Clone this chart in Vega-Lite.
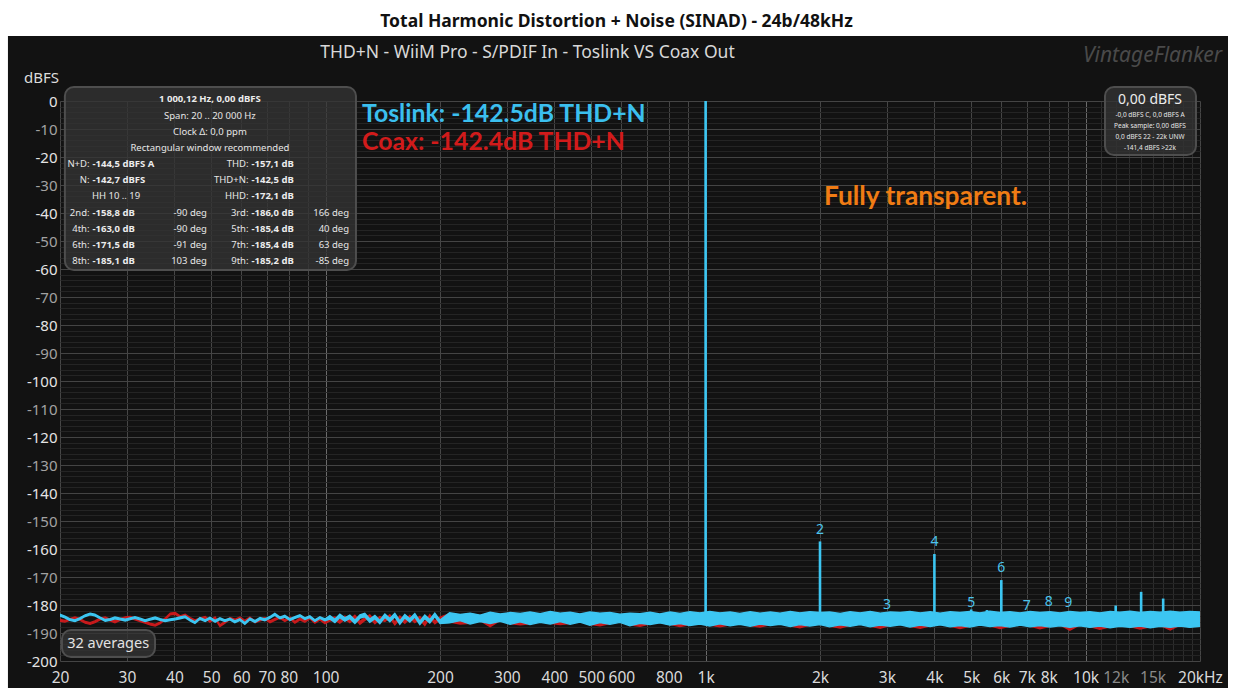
{
"$schema": "https://vega.github.io/schema/vega-lite/v6.json",
"width": 1140, "height": 560,
"autosize": {"type": "none"},
"padding": {"left": 60, "top": 101, "right": 33, "bottom": 32},
"background": "#121212",
"config": {"view": {"stroke": null}, "axis": {"title": null, "domain": false, "ticks": false}},
"datasets": {
"tos": [
{"f":20.0,"lo":-183.9,"hi":-183.3},{"f":20.6,"lo":-184.6,"hi":-184.0},{"f":21.2,"lo":-185.5,"hi":-184.9},{"f":21.9,"lo":-185.9,"hi":-185.3},{"f":22.6,"lo":-185.1,"hi":-184.5},{"f":23.3,"lo":-184.1,"hi":-183.5},{"f":24.0,"lo":-183.5,"hi":-182.9},{"f":24.7,"lo":-183.9,"hi":-183.3},{"f":25.5,"lo":-184.9,"hi":-184.3},{"f":26.3,"lo":-185.8,"hi":-185.2},{"f":27.1,"lo":-185.5,"hi":-184.9},{"f":27.9,"lo":-184.9,"hi":-184.3},{"f":28.8,"lo":-185.3,"hi":-184.7},{"f":29.7,"lo":-185.7,"hi":-185.1},{"f":30.6,"lo":-185.2,"hi":-184.6},{"f":31.5,"lo":-184.8,"hi":-184.2},{"f":32.5,"lo":-185.3,"hi":-184.7},{"f":33.5,"lo":-185.9,"hi":-185.3},{"f":34.5,"lo":-185.4,"hi":-184.8},{"f":35.6,"lo":-184.9,"hi":-184.3},{"f":36.7,"lo":-185.5,"hi":-184.9},{"f":37.8,"lo":-185.9,"hi":-185.3},{"f":39.0,"lo":-185.6,"hi":-185.0},{"f":40.2,"lo":-185.3,"hi":-184.7},{"f":41.4,"lo":-184.9,"hi":-184.3},{"f":42.7,"lo":-184.5,"hi":-183.9},{"f":44.0,"lo":-185.7,"hi":-185.1},{"f":45.3,"lo":-186.6,"hi":-186.0},{"f":46.7,"lo":-185.1,"hi":-184.5},{"f":48.2,"lo":-185.9,"hi":-185.3},{"f":49.6,"lo":-185.0,"hi":-184.4},{"f":51.2,"lo":-186.1,"hi":-185.5},{"f":52.7,"lo":-185.2,"hi":-184.6},{"f":54.3,"lo":-185.9,"hi":-185.3},{"f":56.0,"lo":-185.3,"hi":-184.7},{"f":57.7,"lo":-186.3,"hi":-185.7},{"f":59.5,"lo":-185.5,"hi":-184.9},{"f":61.3,"lo":-186.9,"hi":-186.3},{"f":63.2,"lo":-185.3,"hi":-184.7},{"f":65.2,"lo":-186.2,"hi":-185.6},{"f":67.2,"lo":-185.1,"hi":-184.5},{"f":69.2,"lo":-185.6,"hi":-185.0},{"f":71.4,"lo":-184.7,"hi":-184.1},{"f":73.5,"lo":-183.6,"hi":-183.0},{"f":75.8,"lo":-184.9,"hi":-184.3},{"f":78.1,"lo":-184.3,"hi":-183.7},{"f":80.6,"lo":-185.5,"hi":-184.9},{"f":83.0,"lo":-184.8,"hi":-184.2},{"f":85.6,"lo":-184.1,"hi":-183.5},{"f":88.2,"lo":-185.2,"hi":-184.6},{"f":90.9,"lo":-184.5,"hi":-183.9},{"f":93.7,"lo":-185.9,"hi":-185.3},{"f":96.6,"lo":-184.8,"hi":-184.2},{"f":99.6,"lo":-185.6,"hi":-185.0},
{"f":102.6,"lo":-185.0,"hi":-183.8},{"f":105.8,"lo":-186.3,"hi":-185.1},{"f":109.0,"lo":-184.5,"hi":-183.3},{"f":112.4,"lo":-185.8,"hi":-184.6},{"f":115.8,"lo":-184.8,"hi":-183.6},{"f":119.4,"lo":-186.6,"hi":-185.4},{"f":123.1,"lo":-184.7,"hi":-183.5},{"f":126.8,"lo":-184.2,"hi":-183.0},{"f":130.7,"lo":-186.2,"hi":-185.0},{"f":134.8,"lo":-184.9,"hi":-183.7},{"f":138.9,"lo":-186.7,"hi":-185.5},{"f":143.2,"lo":-184.4,"hi":-183.2},{"f":147.6,"lo":-186.0,"hi":-184.8},{"f":152.1,"lo":-184.2,"hi":-183.0},{"f":156.8,"lo":-186.9,"hi":-185.7},{"f":161.6,"lo":-184.6,"hi":-183.4},{"f":166.6,"lo":-186.1,"hi":-184.9},{"f":171.7,"lo":-184.3,"hi":-183.1},{"f":177.0,"lo":-187.0,"hi":-185.8},{"f":182.4,"lo":-184.8,"hi":-183.6},{"f":188.0,"lo":-186.4,"hi":-185.2},{"f":193.8,"lo":-184.1,"hi":-182.9},{"f":200,"lo":-186.6,"hi":-185.4},
{"f":212,"lo":-186.4,"hi":-182.8},{"f":226,"lo":-185.6,"hi":-183.4},{"f":240,"lo":-186.8,"hi":-182.9},{"f":255,"lo":-185.9,"hi":-183.6},{"f":271,"lo":-186.6,"hi":-182.6},{"f":288,"lo":-185.8,"hi":-183.2},{"f":306,"lo":-186.9,"hi":-182.7},{"f":325,"lo":-186.0,"hi":-183.0},{"f":345,"lo":-187.0,"hi":-182.5},{"f":367,"lo":-186.2,"hi":-183.1},{"f":390,"lo":-186.8,"hi":-182.3},{"f":414,"lo":-185.9,"hi":-182.9},{"f":440,"lo":-186.9,"hi":-182.6},{"f":467,"lo":-186.1,"hi":-183.2},{"f":496,"lo":-187.2,"hi":-182.5},{"f":527,"lo":-186.3,"hi":-182.9},{"f":560,"lo":-186.9,"hi":-182.7},{"f":595,"lo":-186.2,"hi":-183.3},{"f":632,"lo":-187.4,"hi":-182.9},{"f":672,"lo":-186.5,"hi":-183.1},{"f":714,"lo":-187.0,"hi":-182.6},{"f":758,"lo":-186.4,"hi":-183.2},{"f":806,"lo":-187.2,"hi":-182.5},{"f":856,"lo":-186.6,"hi":-183.0},{"f":909,"lo":-187.3,"hi":-182.4},{"f":966,"lo":-186.8,"hi":-182.8},{"f":1026,"lo":-187.5,"hi":-182.3},{"f":1090,"lo":-186.7,"hi":-182.8},{"f":1160,"lo":-187.4,"hi":-182.5},{"f":1230,"lo":-186.9,"hi":-183.0},{"f":1310,"lo":-187.6,"hi":-182.4},{"f":1390,"lo":-186.8,"hi":-182.9},{"f":1480,"lo":-187.3,"hi":-182.5},{"f":1570,"lo":-186.9,"hi":-182.9},{"f":1670,"lo":-187.7,"hi":-182.3},{"f":1770,"lo":-187.0,"hi":-182.8},{"f":1880,"lo":-187.5,"hi":-182.4},{"f":2000,"lo":-187.0,"hi":-182.7},{"f":2120,"lo":-187.8,"hi":-182.5},{"f":2260,"lo":-187.1,"hi":-183.0},{"f":2400,"lo":-187.6,"hi":-182.4},{"f":2550,"lo":-187.0,"hi":-182.8},{"f":2710,"lo":-187.8,"hi":-182.3},{"f":2880,"lo":-187.2,"hi":-182.9},{"f":3060,"lo":-187.6,"hi":-182.5},{"f":3250,"lo":-187.1,"hi":-182.7},{"f":3450,"lo":-187.9,"hi":-182.3},{"f":3670,"lo":-187.2,"hi":-182.8},{"f":3900,"lo":-187.7,"hi":-182.4},{"f":4140,"lo":-187.1,"hi":-182.9},{"f":4400,"lo":-187.8,"hi":-182.4},{"f":4670,"lo":-187.3,"hi":-182.7},{"f":4960,"lo":-187.9,"hi":-182.3},{"f":5270,"lo":-187.2,"hi":-182.8},{"f":5600,"lo":-187.7,"hi":-182.2},{"f":5950,"lo":-187.3,"hi":-182.7},{"f":6320,"lo":-187.9,"hi":-182.4},{"f":6720,"lo":-187.2,"hi":-182.8},{"f":7140,"lo":-187.8,"hi":-182.3},{"f":7580,"lo":-187.3,"hi":-182.7},{"f":8060,"lo":-187.9,"hi":-182.4},{"f":8560,"lo":-187.4,"hi":-182.8},{"f":9090,"lo":-188.0,"hi":-182.3},{"f":9660,"lo":-187.4,"hi":-182.7},{"f":10260,"lo":-188.0,"hi":-182.4},{"f":10900,"lo":-187.5,"hi":-182.8},{"f":11600,"lo":-188.1,"hi":-182.3},{"f":12300,"lo":-187.6,"hi":-182.6},{"f":13100,"lo":-188.0,"hi":-182.2},{"f":13900,"lo":-187.5,"hi":-182.7},{"f":14800,"lo":-188.1,"hi":-182.3},{"f":15700,"lo":-187.6,"hi":-182.6},{"f":16700,"lo":-188.0,"hi":-182.2},{"f":17700,"lo":-187.5,"hi":-182.6},{"f":18800,"lo":-188.0,"hi":-182.3},{"f":20000,"lo":-187.6,"hi":-182.5}
],
"coax": [
{"f":20.0,"lo":-185.8,"hi":-185.2},{"f":20.6,"lo":-186.1,"hi":-185.5},{"f":21.2,"lo":-185.5,"hi":-184.9},{"f":21.9,"lo":-184.9,"hi":-184.3},{"f":22.6,"lo":-185.5,"hi":-184.9},{"f":23.3,"lo":-186.5,"hi":-185.9},{"f":24.0,"lo":-186.9,"hi":-186.3},{"f":24.7,"lo":-186.3,"hi":-185.7},{"f":25.5,"lo":-185.3,"hi":-184.7},{"f":26.3,"lo":-184.9,"hi":-184.3},{"f":27.1,"lo":-185.7,"hi":-185.1},{"f":27.9,"lo":-186.3,"hi":-185.7},{"f":28.8,"lo":-185.5,"hi":-184.9},{"f":29.7,"lo":-184.9,"hi":-184.3},{"f":30.6,"lo":-184.7,"hi":-184.1},{"f":31.5,"lo":-185.3,"hi":-184.7},{"f":32.5,"lo":-185.9,"hi":-185.3},{"f":33.5,"lo":-186.5,"hi":-185.9},{"f":34.5,"lo":-187.1,"hi":-186.5},{"f":35.6,"lo":-187.5,"hi":-186.9},{"f":36.7,"lo":-186.7,"hi":-186.1},{"f":37.8,"lo":-185.3,"hi":-184.7},{"f":39.0,"lo":-183.5,"hi":-182.9},{"f":40.2,"lo":-183.3,"hi":-182.7},{"f":41.4,"lo":-184.5,"hi":-183.9},{"f":42.7,"lo":-183.9,"hi":-183.3},{"f":44.0,"lo":-185.1,"hi":-184.5},{"f":45.3,"lo":-185.9,"hi":-185.3},{"f":46.7,"lo":-185.3,"hi":-184.7},{"f":48.2,"lo":-184.7,"hi":-184.1},{"f":49.6,"lo":-186.1,"hi":-185.5},{"f":51.2,"lo":-184.9,"hi":-184.3},{"f":52.7,"lo":-187.7,"hi":-187.1},{"f":54.3,"lo":-186.5,"hi":-185.9},{"f":56.0,"lo":-185.1,"hi":-184.5},{"f":57.7,"lo":-185.7,"hi":-185.1},{"f":59.5,"lo":-184.9,"hi":-184.3},{"f":61.3,"lo":-186.1,"hi":-185.5},{"f":63.2,"lo":-184.9,"hi":-184.3},{"f":65.2,"lo":-186.3,"hi":-185.7},{"f":67.2,"lo":-185.7,"hi":-185.1},{"f":69.2,"lo":-185.1,"hi":-184.5},{"f":71.4,"lo":-186.3,"hi":-185.7},{"f":73.5,"lo":-185.5,"hi":-184.9},{"f":75.8,"lo":-184.7,"hi":-184.1},{"f":78.1,"lo":-185.9,"hi":-185.3},{"f":80.6,"lo":-184.9,"hi":-184.3},{"f":83.0,"lo":-186.5,"hi":-185.9},{"f":85.6,"lo":-185.3,"hi":-184.7},{"f":88.2,"lo":-186.1,"hi":-185.5},{"f":90.9,"lo":-184.9,"hi":-184.3},{"f":93.7,"lo":-186.5,"hi":-185.9},{"f":96.6,"lo":-185.3,"hi":-184.7},{"f":99.6,"lo":-186.7,"hi":-186.1},
{"f":102.6,"lo":-185.7,"hi":-184.7},{"f":105.8,"lo":-185.3,"hi":-184.3},{"f":109.0,"lo":-186.5,"hi":-185.5},{"f":112.4,"lo":-185.0,"hi":-184.0},{"f":115.8,"lo":-186.3,"hi":-185.3},{"f":119.4,"lo":-184.7,"hi":-183.7},{"f":123.1,"lo":-186.9,"hi":-185.9},{"f":126.8,"lo":-185.5,"hi":-184.5},{"f":130.7,"lo":-184.5,"hi":-183.5},{"f":134.8,"lo":-186.7,"hi":-185.7},{"f":138.9,"lo":-185.1,"hi":-184.1},{"f":143.2,"lo":-185.9,"hi":-184.9},{"f":147.6,"lo":-184.5,"hi":-183.5},{"f":152.1,"lo":-187.1,"hi":-186.1},{"f":156.8,"lo":-184.9,"hi":-183.9},{"f":161.6,"lo":-186.5,"hi":-185.5},{"f":166.6,"lo":-184.7,"hi":-183.7},{"f":171.7,"lo":-186.3,"hi":-185.3},{"f":177.0,"lo":-185.1,"hi":-184.1},{"f":182.4,"lo":-187.3,"hi":-186.3},{"f":188.0,"lo":-184.5,"hi":-183.5},{"f":193.8,"lo":-186.7,"hi":-185.7},{"f":200,"lo":-185.3,"hi":-184.3},
{"f":212,"lo":-186.1,"hi":-183.1},{"f":226,"lo":-186.8,"hi":-183.6},{"f":240,"lo":-186.5,"hi":-183.2},{"f":255,"lo":-185.6,"hi":-183.8},{"f":271,"lo":-187.7,"hi":-182.9},{"f":288,"lo":-185.5,"hi":-183.5},{"f":306,"lo":-186.6,"hi":-183.0},{"f":325,"lo":-187.1,"hi":-183.3},{"f":345,"lo":-186.7,"hi":-182.8},{"f":367,"lo":-185.9,"hi":-183.4},{"f":390,"lo":-186.5,"hi":-182.6},{"f":414,"lo":-187.0,"hi":-183.2},{"f":440,"lo":-186.6,"hi":-182.9},{"f":467,"lo":-185.8,"hi":-183.5},{"f":496,"lo":-186.9,"hi":-182.8},{"f":527,"lo":-187.4,"hi":-183.2},{"f":560,"lo":-186.6,"hi":-183.0},{"f":595,"lo":-185.9,"hi":-183.6},{"f":632,"lo":-187.1,"hi":-183.2},{"f":672,"lo":-187.6,"hi":-183.4},{"f":714,"lo":-186.7,"hi":-182.9},{"f":758,"lo":-186.1,"hi":-183.5},{"f":806,"lo":-186.9,"hi":-182.8},{"f":856,"lo":-187.7,"hi":-183.3},{"f":909,"lo":-187.0,"hi":-182.7},{"f":966,"lo":-186.5,"hi":-183.1},{"f":1026,"lo":-187.2,"hi":-182.6},{"f":1090,"lo":-187.8,"hi":-183.1},{"f":1160,"lo":-187.1,"hi":-182.8},{"f":1230,"lo":-186.6,"hi":-183.3},{"f":1310,"lo":-187.3,"hi":-182.7},{"f":1390,"lo":-187.9,"hi":-183.2},{"f":1480,"lo":-187.0,"hi":-182.8},{"f":1570,"lo":-186.6,"hi":-183.2},{"f":1670,"lo":-187.4,"hi":-182.6},{"f":1770,"lo":-188.1,"hi":-183.1},{"f":1880,"lo":-187.2,"hi":-182.7},{"f":2000,"lo":-186.7,"hi":-183.0},{"f":2120,"lo":-187.5,"hi":-182.8},{"f":2260,"lo":-188.2,"hi":-183.3},{"f":2400,"lo":-187.3,"hi":-182.7},{"f":2550,"lo":-186.7,"hi":-183.1},{"f":2710,"lo":-187.5,"hi":-182.6},{"f":2880,"lo":-188.3,"hi":-183.2},{"f":3060,"lo":-187.3,"hi":-182.8},{"f":3250,"lo":-186.8,"hi":-183.0},{"f":3450,"lo":-187.6,"hi":-182.6},{"f":3670,"lo":-188.3,"hi":-183.1},{"f":3900,"lo":-187.4,"hi":-182.7},{"f":4140,"lo":-186.8,"hi":-183.2},{"f":4400,"lo":-187.5,"hi":-182.7},{"f":4670,"lo":-188.4,"hi":-183.0},{"f":4960,"lo":-187.6,"hi":-182.6},{"f":5270,"lo":-186.9,"hi":-183.1},{"f":5600,"lo":-187.4,"hi":-182.5},{"f":5950,"lo":-188.4,"hi":-183.0},{"f":6320,"lo":-187.6,"hi":-182.7},{"f":6720,"lo":-186.9,"hi":-183.1},{"f":7140,"lo":-187.5,"hi":-182.6},{"f":7580,"lo":-188.5,"hi":-183.0},{"f":8060,"lo":-187.6,"hi":-182.7},{"f":8560,"lo":-187.1,"hi":-183.1},{"f":9090,"lo":-189.0,"hi":-182.6},{"f":9660,"lo":-187.1,"hi":-183.0},{"f":10260,"lo":-187.7,"hi":-182.7},{"f":10900,"lo":-188.7,"hi":-183.1},{"f":11600,"lo":-187.8,"hi":-182.6},{"f":12300,"lo":-187.3,"hi":-182.9},{"f":13100,"lo":-187.7,"hi":-182.5},{"f":13900,"lo":-188.6,"hi":-183.0},{"f":14800,"lo":-187.8,"hi":-182.6},{"f":15700,"lo":-187.3,"hi":-182.9},{"f":16700,"lo":-188.9,"hi":-182.5},{"f":17700,"lo":-187.2,"hi":-182.9},{"f":18800,"lo":-187.7,"hi":-182.6},{"f":20000,"lo":-187.3,"hi":-182.8}
],
"harm": [
{"f":1000,"db":0},{"f":2000,"db":-157.3},{"f":4000,"db":-161.8},{"f":6000,"db":-171.1},{"f":5000,"db":-181.6},{"f":5500,"db":-181.8},{"f":12000,"db":-180.2},{"f":14000,"db":-175.3},{"f":16000,"db":-177.7}
],
"hlab": [
{"n":"2","f":2000,"db":-153.2},{"n":"4","f":4000,"db":-157.5},{"n":"6","f":6000,"db":-166.8},{"n":"3","f":3000,"db":-180.0},{"n":"5","f":5000,"db":-179.3},{"n":"7","f":7000,"db":-180.4},{"n":"8","f":8000,"db":-179.0},{"n":"9","f":9000,"db":-179.3}
]
},
"layer": [
{"data": {"name": "coax"},
 "mark": {"type": "area", "fill": "#c81a1c", "stroke": "#c81a1c", "strokeWidth": 1.4, "clip": true},
 "encoding": {
  "x": {"field": "f", "type": "quantitative",
   "scale": {"type": "log", "domain": [20, 20000], "nice": false},
   "axis": {
    "title": null,
    "values": [20,30,40,50,60,70,80,90,100,200,300,400,500,600,700,800,900,1000,2000,3000,4000,5000,6000,7000,8000,9000,10000,11000,12000,13000,14000,15000,16000,17000,18000,19000,20000],
    "tickCount": 200,
    "labelExpr": "datum.value == 20000 ? '20kHz' : (indexof([90,700,900,9000,11000,13000,14000,16000,17000,18000,19000], datum.value) >= 0 ? '' : (datum.value >= 1000 ? (datum.value / 1000) + 'k' : '' + datum.value))",
    "grid": true,
    "gridColor": {"condition": [{"test": "datum.value == 100 || datum.value == 1000 || datum.value == 10000", "value": "#6a6a6a"}, {"test": "datum.value > 10000 && datum.value < 20000", "value": "#2c2c2c"}], "value": "#464646"},
    "labelColor": {"condition": {"test": "datum.value == 12000 || datum.value == 15000", "value": "#8a8a8a"}, "value": "#dadada"},
    "labelFont": "Noto Sans", "labelFontSize": 15.5, "labelPadding": 9.5,
    "labelFlush": false, "labelOverlap": false, "labelBound": false}},
  "y": {"field": "lo", "type": "quantitative",
   "scale": {"domain": [-200, 0], "nice": false, "zero": false},
   "axis": {
    "title": null,
    "values": [-200,-198,-196,-194,-192,-190,-188,-186,-184,-182,-180,-178,-176,-174,-172,-170,-168,-166,-164,-162,-160,-158,-156,-154,-152,-150,-148,-146,-144,-142,-140,-138,-136,-134,-132,-130,-128,-126,-124,-122,-120,-118,-116,-114,-112,-110,-108,-106,-104,-102,-100,-98,-96,-94,-92,-90,-88,-86,-84,-82,-80,-78,-76,-74,-72,-70,-68,-66,-64,-62,-60,-58,-56,-54,-52,-50,-48,-46,-44,-42,-40,-38,-36,-34,-32,-30,-28,-26,-24,-22,-20,-18,-16,-14,-12,-10,-8,-6,-4,-2,0],
    "tickCount": 200,
    "labelExpr": "datum.value % 10 == 0 ? '' + datum.value : ''",
    "grid": true,
    "gridColor": {"condition": {"test": "datum.value % 10 == 0", "value": "#444444"}, "value": "#242424"},
    "labelColor": {"condition": {"test": "datum.value % 20 == 0", "value": "#e4e4e4"}, "value": "#a2a2a2"},
    "labelFont": "Noto Sans", "labelFontSize": 15, "labelPadding": 3,
    "labelOverlap": false, "labelBound": false}},
  "y2": {"field": "hi"}}},
{"data": {"values": [{}]}, "mark": {"type": "rect", "fill": "white"},
 "encoding": {"x": {"datum": 10, "type": "quantitative"}, "x2": {"datum": 40000}, "y": {"datum": 23.21, "type": "quantitative"}, "y2": {"datum": 45}}},
{"data": {"values": [{}]}, "mark": {"type": "rect", "fill": "white"},
 "encoding": {"x": {"datum": 10, "type": "quantitative"}, "x2": {"datum": 14.59}, "y": {"datum": 45, "type": "quantitative"}, "y2": {"datum": -225}}},
{"data": {"values": [{}]}, "mark": {"type": "rect", "fill": "white"},
 "encoding": {"x": {"datum": 23698, "type": "quantitative"}, "x2": {"datum": 40000}, "y": {"datum": 45, "type": "quantitative"}, "y2": {"datum": -225}}},
{"data": {"values": [{}]}, "mark": {"type": "rect", "fill": "white"},
 "encoding": {"x": {"datum": 10, "type": "quantitative"}, "x2": {"datum": 40000}, "y": {"datum": -209.64, "type": "quantitative"}, "y2": {"datum": -225}}},
{"data": {"name": "tos"},
 "mark": {"type": "area", "fill": "#3cc6f2", "stroke": "#3cc6f2", "strokeWidth": 1.4, "clip": true},
 "encoding": {"x": {"field": "f", "type": "quantitative"}, "y": {"field": "lo", "type": "quantitative"}, "y2": {"field": "hi"}}},
{"data": {"name": "harm"},
 "mark": {"type": "rule", "color": "#3cc6f2", "strokeWidth": 2.6},
 "encoding": {"x": {"field": "f", "type": "quantitative"}, "y": {"field": "db", "type": "quantitative"}, "y2": {"datum": -184.5}}},
{"data": {"name": "hlab"},
 "mark": {"type": "text", "color": "#4cc4ec", "font": "Noto Sans", "fontSize": 14, "baseline": "middle", "align": "center"},
 "encoding": {"x": {"field": "f", "type": "quantitative"}, "y": {"field": "db", "type": "quantitative"}, "text": {"field": "n"}}},
{"data": {"values": [{}]}, "mark": {"type": "rect", "cornerRadius": 9, "fill": "#333333", "fillOpacity": 0.78, "stroke": "#4e4e4e", "strokeWidth": 2},
 "encoding": {"x": {"datum": 20.6, "type": "quantitative"}, "x2": {"datum": 120.2}, "y": {"datum": 5.0, "type": "quantitative"}, "y2": {"datum": -60.36}}},
{"data": {"values": [{}]}, "mark": {"type": "text", "text": "1 000,12 Hz, 0,00 dBFS", "font": "Noto Sans", "fontSize": 9.5, "fontWeight": "bold", "color": "#ececec", "align": "center", "baseline": "middle"},
 "encoding": {"x": {"datum": 49.6, "type": "quantitative"}, "y": {"datum": 0.71, "type": "quantitative"}}},
{"data": {"values": [{}]}, "mark": {"type": "text", "text": ["Span: 20 .. 20 000 Hz", "Clock Δ: 0,0 ppm", "Rectangular window recommended"], "lineHeight": 16.1, "font": "Noto Sans", "fontSize": 9.5, "color": "#e6e6e6", "align": "center", "baseline": "top"},
 "encoding": {"x": {"datum": 49.6, "type": "quantitative"}, "y": {"datum": -3.5, "type": "quantitative"}}},
{"data": {"values": [{}]}, "mark": {"type": "text", "text": ["N+D:", "N:"], "lineHeight": 16.2, "font": "Noto Sans", "fontSize": 9.5, "color": "#e6e6e6", "align": "right", "baseline": "top"},
 "encoding": {"x": {"datum": 23.92, "type": "quantitative"}, "y": {"datum": -20.75, "type": "quantitative"}}},
{"data": {"values": [{}]}, "mark": {"type": "text", "text": ["-144,5 dBFS A", "-142,7 dBFS"], "lineHeight": 16.2, "font": "Noto Sans", "fontSize": 9.5, "fontWeight": "bold", "color": "#ececec", "align": "left", "baseline": "top"},
 "encoding": {"x": {"datum": 24.35, "type": "quantitative"}, "y": {"datum": -20.75, "type": "quantitative"}}},
{"data": {"values": [{}]}, "mark": {"type": "text", "text": ["2nd:", "4th:", "6th:", "8th:"], "lineHeight": 16.2, "font": "Noto Sans", "fontSize": 9.5, "color": "#e6e6e6", "align": "right", "baseline": "top"},
 "encoding": {"x": {"datum": 23.92, "type": "quantitative"}, "y": {"datum": -38.1, "type": "quantitative"}}},
{"data": {"values": [{}]}, "mark": {"type": "text", "text": ["-158,8 dB", "-163,0 dB", "-171,5 dB", "-185,1 dB"], "lineHeight": 16.2, "font": "Noto Sans", "fontSize": 9.5, "fontWeight": "bold", "color": "#ececec", "align": "left", "baseline": "top"},
 "encoding": {"x": {"datum": 24.35, "type": "quantitative"}, "y": {"datum": -38.1, "type": "quantitative"}}},
{"data": {"values": [{}]}, "mark": {"type": "text", "text": "HH 10 .. 19", "font": "Noto Sans", "fontSize": 9.5, "color": "#e6e6e6", "align": "center", "baseline": "middle"},
 "encoding": {"x": {"datum": 28.09, "type": "quantitative"}, "y": {"datum": -33.8, "type": "quantitative"}}},
{"data": {"values": [{}]}, "mark": {"type": "text", "text": ["-90 deg", "-90 deg", "-91 deg", "103 deg"], "lineHeight": 16.2, "font": "Noto Sans", "fontSize": 9.5, "color": "#e6e6e6", "align": "right", "baseline": "top"},
 "encoding": {"x": {"datum": 48.73, "type": "quantitative"}, "y": {"datum": -38.1, "type": "quantitative"}}},
{"data": {"values": [{}]}, "mark": {"type": "text", "text": ["THD:", "THD+N:", "HHD:", "3rd:", "5th:", "7th:", "9th:"], "lineHeight": 16.2, "font": "Noto Sans", "fontSize": 9.5, "color": "#e6e6e6", "align": "right", "baseline": "top"},
 "encoding": {"x": {"datum": 62.67, "type": "quantitative"}, "y": {"datum": -20.75, "type": "quantitative"}}},
{"data": {"values": [{}]}, "mark": {"type": "text", "text": ["-157,1 dB", "-142,5 dB", "-172,1 dB", "-186,0 dB", "-185,4 dB", "-185,4 dB", "-185,2 dB"], "lineHeight": 16.2, "font": "Noto Sans", "fontSize": 9.5, "fontWeight": "bold", "color": "#ececec", "align": "left", "baseline": "top"},
 "encoding": {"x": {"datum": 63.82, "type": "quantitative"}, "y": {"datum": -20.75, "type": "quantitative"}}},
{"data": {"values": [{}]}, "mark": {"type": "text", "text": ["166 deg", "40 deg", "63 deg", "-85 deg"], "lineHeight": 16.2, "font": "Noto Sans", "fontSize": 9.5, "color": "#e6e6e6", "align": "right", "baseline": "top"},
 "encoding": {"x": {"datum": 115.25, "type": "quantitative"}, "y": {"datum": -38.1, "type": "quantitative"}}},
{"data": {"values": [{}]}, "mark": {"type": "rect", "cornerRadius": 9, "fill": "#333333", "fillOpacity": 0.78, "stroke": "#4e4e4e", "strokeWidth": 2},
 "encoding": {"x": {"datum": 11246, "type": "quantitative"}, "x2": {"datum": 19520}, "y": {"datum": 5.0, "type": "quantitative"}, "y2": {"datum": -19.29}}},
{"data": {"values": [{}]}, "mark": {"type": "text", "text": "0,00 dBFS", "font": "Noto Sans", "fontSize": 14, "color": "#ececec", "align": "center", "baseline": "middle"},
 "encoding": {"x": {"datum": 14772, "type": "quantitative"}, "y": {"datum": 0.36, "type": "quantitative"}}},
{"data": {"values": [{}]}, "mark": {"type": "text", "text": ["-0,0 dBFS C, 0,0 dBFS A", "Peak sample: 0,00 dBFS", "0,0 dBFS 22 - 22k UNW", "-141,4 dBFS >22k"], "lineHeight": 11, "font": "Noto Sans", "fontSize": 6.5, "color": "#e6e6e6", "align": "center", "baseline": "top"},
 "encoding": {"x": {"datum": 14772, "type": "quantitative"}, "y": {"datum": -3.9, "type": "quantitative"}}},
{"data": {"values": [{}]}, "mark": {"type": "rect", "cornerRadius": 9, "fill": "#333333", "fillOpacity": 0.78, "stroke": "#4e4e4e", "strokeWidth": 2},
 "encoding": {"x": {"datum": 20.24, "type": "quantitative"}, "x2": {"datum": 35.57}, "y": {"datum": -188.93, "type": "quantitative"}, "y2": {"datum": -198.57}}},
{"data": {"values": [{}]}, "mark": {"type": "text", "text": "32 averages", "font": "Noto Sans", "fontSize": 14.5, "color": "#e2e2e2", "align": "center", "baseline": "middle"},
 "encoding": {"x": {"datum": 26.77, "type": "quantitative"}, "y": {"datum": -193.93, "type": "quantitative"}}},
{"data": {"values": [{}]}, "mark": {"type": "text", "text": "Toslink: -142.5dB THD+N", "font": "Lato", "fontSize": 24.8, "fontWeight": "bold", "color": "#3bbfee", "align": "left", "baseline": "middle"},
 "encoding": {"x": {"datum": 124.7, "type": "quantitative"}, "y": {"datum": -5.0, "type": "quantitative"}}},
{"data": {"values": [{}]}, "mark": {"type": "text", "text": "Coax: -142.4dB THD+N", "font": "Lato", "fontSize": 24.8, "fontWeight": "bold", "color": "#d11b1b", "align": "left", "baseline": "middle"},
 "encoding": {"x": {"datum": 124.7, "type": "quantitative"}, "y": {"datum": -15.1, "type": "quantitative"}}},
{"data": {"values": [{}]}, "mark": {"type": "text", "text": "Fully transparent.", "font": "Lato", "fontSize": 26.3, "fontWeight": "bold", "color": "#f07c14", "align": "left", "baseline": "middle"},
 "encoding": {"x": {"datum": 2049, "type": "quantitative"}, "y": {"datum": -34.3, "type": "quantitative"}}},
{"data": {"values": [{}]}, "mark": {"type": "text", "text": "Total Harmonic Distortion + Noise (SINAD) - 24b/48kHz", "font": "Noto Sans", "fontSize": 17.5, "fontWeight": "bold", "color": "#111111", "align": "center", "baseline": "middle"},
 "encoding": {"x": {"datum": 582.8, "type": "quantitative"}, "y": {"datum": 28.04, "type": "quantitative"}}},
{"data": {"values": [{}]}, "mark": {"type": "text", "text": "THD+N - WiiM Pro - S/PDIF In - Toslink VS Coax Out", "font": "Noto Sans", "fontSize": 17.5, "color": "#d8d8d8", "align": "center", "baseline": "middle"},
 "encoding": {"x": {"datum": 339.8, "type": "quantitative"}, "y": {"datum": 17.04, "type": "quantitative"}}},
{"data": {"values": [{}]}, "mark": {"type": "text", "text": "VintageFlanker", "font": "Noto Sans", "fontSize": 21, "fontStyle": "italic", "color": "#4a4a4a", "align": "right", "baseline": "middle"},
 "encoding": {"x": {"datum": 22852, "type": "quantitative"}, "y": {"datum": 16.07, "type": "quantitative"}}},
{"data": {"values": [{}]}, "mark": {"type": "text", "text": "dBFS", "font": "Noto Sans", "fontSize": 15, "color": "#dcdcdc", "align": "center", "baseline": "middle"},
 "encoding": {"x": {"datum": 17.88, "type": "quantitative"}, "y": {"datum": 8.2, "type": "quantitative"}}}
]
}
